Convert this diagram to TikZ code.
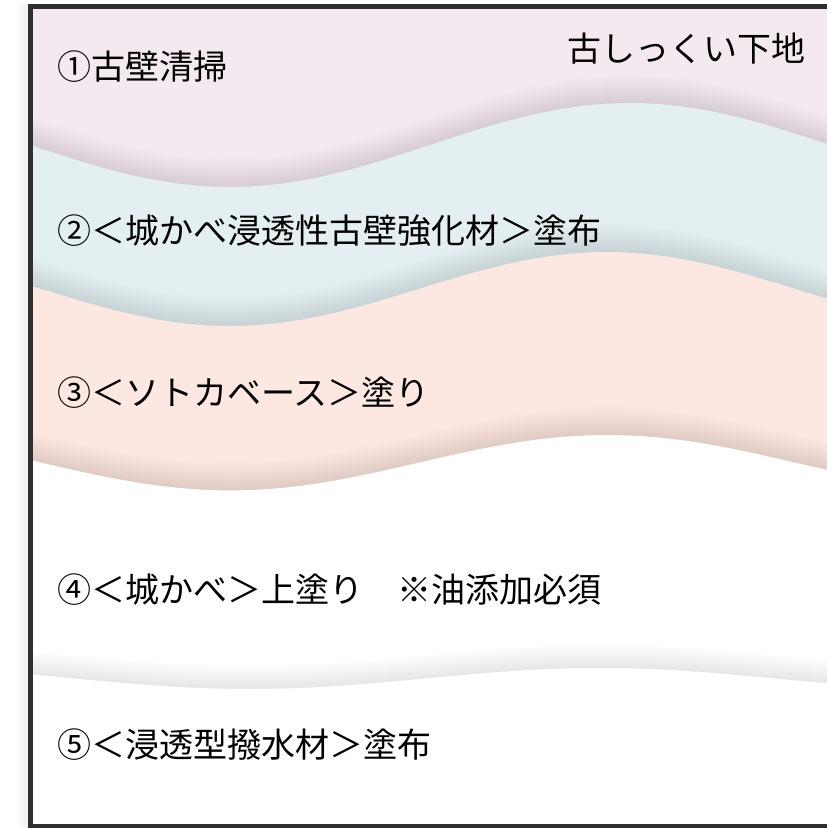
\documentclass[tikz,border=0pt]{standalone}
\usepackage{fontspec}
\usetikzlibrary{positioning}
\newfontfamily\jpfont{Noto Sans CJK JP}
\definecolor{wallpink}{HTML}{F4E9F1}
\definecolor{wallblue}{HTML}{E3EFF1}
\definecolor{wallpeach}{HTML}{FCE7E1}
\definecolor{wallframe}{HTML}{2E2E2E}

\begin{document}
\begin{tikzpicture}[x=1pt,y=-1pt,
    steplabel/.style={font=\jpfont\fontsize{34}{40}\selectfont,inner sep=0pt,anchor=base west},
    shadowcopy/.style={fill=black,opacity=0.008}]

  \useasboundingbox (0,0) rectangle (827,828);

  % ---- Layer 1: old plaster -----------------------------------
  \fill[wallpink] (28,4) rectangle (827,828);

  % ---- Layer 2: strengthening agent ---------------------------
  % soft shadow above the wave
  \foreach \k in {1,...,14}
    \fill[shadowcopy] plot[domain=28:827,samples=80] (\x,{145+42*cos((\x-230)*0.45)-2*\k})
      -- (827,828) -- (28,828) -- cycle;
  \fill[wallblue] plot[domain=28:827,samples=80] (\x,{145+42*cos((\x-230)*0.45)})
    -- (827,828) -- (28,828) -- cycle;

  % ---- Layer 3: base coat -------------------------------------
  \foreach \k in {1,...,14}
    \fill[shadowcopy] plot[domain=28:827,samples=80] (\x,{289+37*cos((\x-230)/377*180)-2*\k})
      -- (827,828) -- (28,828) -- cycle;
  \fill[wallpeach] plot[domain=28:827,samples=80] (\x,{289+37*cos((\x-230)/377*180)})
    -- (827,828) -- (28,828) -- cycle;

  % ---- Layer 4: top coat --------------------------------------
  \foreach \k in {1,...,14}
    \fill[shadowcopy] plot[domain=28:827,samples=80] (\x,{462.7+27.7*cos((\x-230)/377*180)-2*\k})
      -- (827,828) -- (28,828) -- cycle;
  \fill[white] plot[domain=28:827,samples=80] (\x,{462.7+27.7*cos((\x-230)/377*180)})
    -- (827,828) -- (28,828) -- cycle;

  % ---- Layer 5: water repellent -------------------------------
  \foreach \k in {1,...,12}
    \fill[shadowcopy] plot[domain=28:827,samples=80] (\x,{678.5+10.5*cos((\x-250)/350*180)-2*\k})
      -- (827,828) -- (28,828) -- cycle;
  \fill[white] plot[domain=28:827,samples=80] (\x,{678.5+10.5*cos((\x-250)/350*180)})
    -- (827,828) -- (28,828) -- cycle;

  % ---- Frame --------------------------------------------------
  \shade[left color=white,right color=black!7] (16,4) rectangle (28,828);
  \draw[wallframe,line width=5pt] (827,6.5) -- (30.5,6.5) -- (30.5,826.5) -- (827,826.5);

  % ---- Labels -------------------------------------------------
  \node[steplabel,anchor=base east] (base) at (806,61) {古しっくい下地};
  \node[steplabel] (clean) at (57,79) {①古壁清掃};
  \node[steplabel] (harden) at (57,243) {②＜城かべ浸透性古壁強化材＞塗布};
  \node[steplabel] (undercoat) at (57,405) {③＜ソトカベース＞塗り};
  \node[steplabel] (topcoat) at (57,602) {④＜城かべ＞上塗り　※油添加必須};
  \node[steplabel] (repel) at (57,757) {⑤＜浸透型撥水材＞塗布};

\end{tikzpicture}
\end{document}
